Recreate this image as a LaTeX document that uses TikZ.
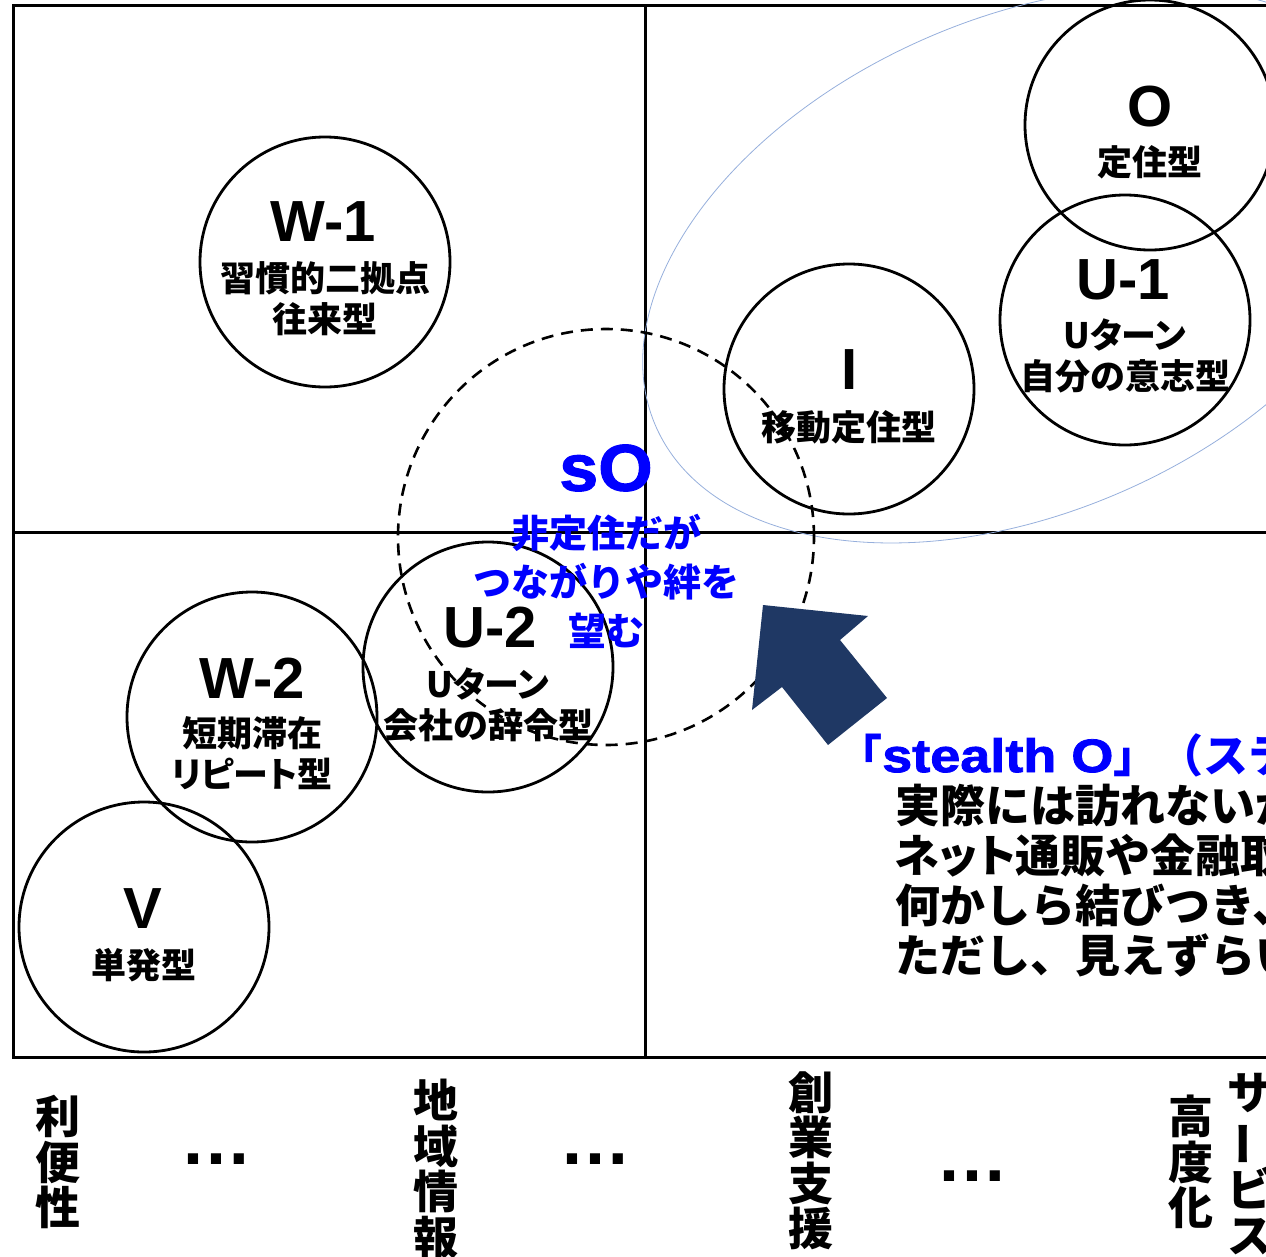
\documentclass[tikz,border=0pt]{standalone}
\usepackage{fontspec}
\usepackage{graphicx}
\setmainfont{Liberation Sans}
\newfontfamily\jp{Noto Sans CJK JP}
\newfontfamily\jpp{Noto Sans CJK JP}[RawFeature=+palt]
\newfontfamily\lat{Liberation Sans}
\newfontfamily\latheavy{Liberation Sans}[BoldFeatures={FakeBold=1.6}]
\definecolor{navy}{RGB}{31,56,100}
\definecolor{pureblue}{RGB}{0,0,255}
\definecolor{paleblue}{RGB}{150,175,220}
\newcommand{\fsz}[2]{\fontsize{#1}{#2}\selectfont}
\begin{document}
\begin{tikzpicture}[x=1pt,y=-1pt,
  ring/.style={circle,draw,line width=2.8pt,minimum size=250pt,inner sep=0pt,outer sep=0pt},
  ttl/.style={inner sep=0pt,font=\lat\bfseries\fsz{58}{58}},
  subtxt/.style={inner sep=0pt,align=center,font=\jp\bfseries\fsz{35}{41}},
  vlab/.style={inner sep=0pt,align=center,font=\jp\bfseries\fsz{45}{45.5}},
  dotrow/.style={inner sep=0pt,font=\lat\bfseries\fsz{72}{72}},
  frm/.style={line width=3pt,line join=miter},
]
\useasboundingbox (0,0) rectangle (1266,1256);
\begin{scope}
\clip (0,0) rectangle (1266,1256);
% frame
\draw[frm] (1290,5) -- (13,5) -- (13,1057) -- (1290,1057);
\draw[frm] (645,5) -- (645,1057);
\draw[frm] (13,532) -- (1290,532);
% pale ellipse
\draw[paleblue,line width=0.8pt,rotate around={23.7:(1024,265)}] (1024,265) ellipse [x radius=402, y radius=247];
% dashed sO circle
\node[circle,draw,dashed,dash pattern=on 12pt off 8pt,line width=2.6pt,minimum size=416pt,inner sep=0pt] (so) at (606,537) {};
% circles
\node[ring] (w1) at (325,262) {};
\node[ring] (w2) at (252,717) {};
\node[ring] (v) at (144,927) {};
\node[ring] (u2) at (488,667) {};
\node[ring] (i) at (849,389) {};
\node[ring] (o) at (1150,125) {};
\node[ring] (u1) at (1125,320) {};
% arrow
\fill[navy] (763,605) -- (868,616) -- (840,640) -- (887,698) -- (828,745) -- (782,687) -- (752,710) -- cycle;
% circle labels
\node[ttl] (w1t) at (323,222) {W-1};
\node[subtxt] (w1s) at (325,299) {習慣的二拠点\\往来型};
\node[ttl] (w2t) at (252,678) {W-2};
\node[subtxt] (w2s) at (252,753) {短期滞在\\{\jpp リピート}型};
\node[ttl] (vt) at (143,909) {V};
\node[subtxt] (vs) at (144,965) {単発型};
\node[ttl] (u2t) at (490,628) {U-2};
\node[subtxt] (u2s) at (488,705) {{\jpp Uターン}\\会社の辞令型};
\node[ttl] (it) at (850,370) {I};
\node[subtxt] (is) at (849,427) {移動定住型};
\node[ttl] (ot) at (1150,107) {O};
\node[subtxt] (os) at (1150,162) {定住型};
\node[ttl] (u1t) at (1123,280) {U-1};
\node[subtxt] (u1s) at (1125,356) {{\jpp Uターン}\\自分の意志型};
% sO labels
\node[inner sep=0pt,text=pureblue,font=\latheavy\bfseries\fsz{66}{66}] (sot) at (606,468) {\scalebox{1.06}[1]{sO}};
\node[inner sep=0pt,align=center,text=pureblue,font=\jp\bfseries\fsz{38}{49}] (sos) at (606,581) {非定住だが\\つながりや絆を\\望む};
% stealth O explanation
\node[inner sep=0pt,anchor=west,text=pureblue,font=\jp\bfseries\fsz{45}{45}] (st) at (837,755) {「\scalebox{1.15}[1]{\latheavy\bfseries\fsz{47}{47}stealth O}」（ステルス};
\node[inner sep=0pt,anchor=west,align=left,font=\jp\bfseries\fsz{45}{50}] (expl) at (895,880) {実際には訪れないが\\{\jpp ネット}通販や金融取\\何かしら結びつき、\\ただし、見えずらい};
% bottom axis labels
\node[vlab] (b1) at (58,1162) {利\\便\\性};
\node[dotrow] (d1) at (216,1159) {…};
\node[vlab] (b2) at (436,1169) {地\\域\\情\\報};
\node[dotrow] (d2) at (595,1159) {…};
\node[vlab] (b3) at (811,1161) {創\\業\\支\\援};
\node[dotrow] (d3) at (972,1176) {…};
\node[vlab] (b4) at (1191,1162) {高\\度\\化};
\node[vlab] (b5) at (1250,1164) {サ\\\rotatebox[origin=c]{90}{ー}\\ビ\\ス};
\end{scope}
\end{tikzpicture}
\end{document}
